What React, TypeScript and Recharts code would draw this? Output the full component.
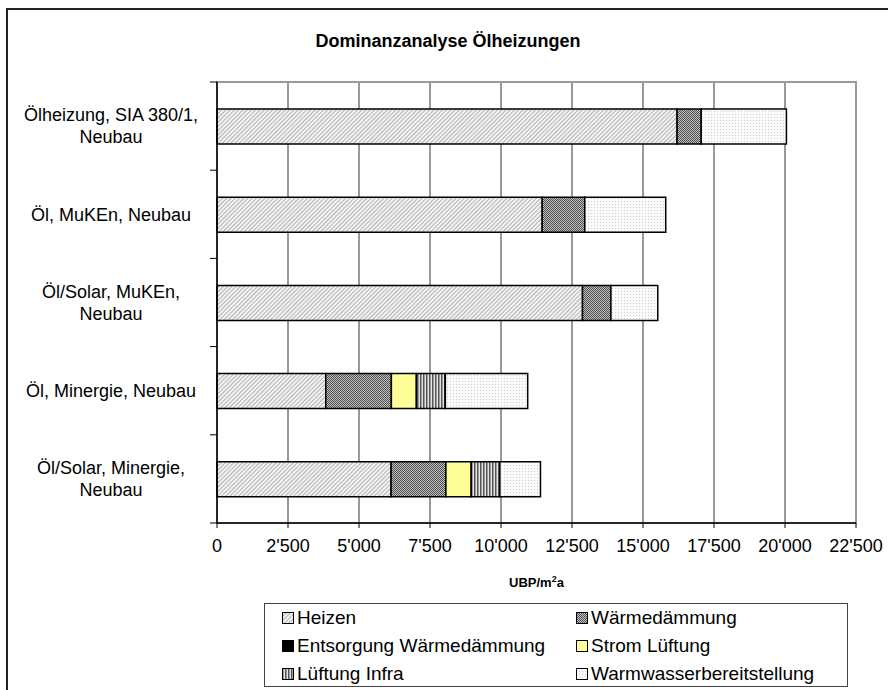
import React from "react";
import { BarChart, Bar, XAxis, YAxis, CartesianGrid, ReferenceArea } from "recharts";

const categories = [
  "Ölheizung, SIA 380/1,|Neubau",
  "Öl, MuKEn, Neubau",
  "Öl/Solar, MuKEn,|Neubau",
  "Öl, Minergie, Neubau",
  "Öl/Solar, Minergie,|Neubau",
];
const heizen = [16200, 11450, 12870, 3830, 6130];
const waermedaemmung = [850, 1500, 1000, 2310, 1930];
const entsorgung = [0, 0, 0, 0, 0];
const stromLueftung = [0, 0, 0, 880, 890];
const lueftungInfra = [0, 0, 0, 1020, 1010];
const warmwasser = [3000, 2850, 1650, 2900, 1430];
const xTicks = [0, 2500, 5000, 7500, 10000, 12500, 15000, 17500, 20000, 22500];

const series = [
  { key: "heizen", name: "Heizen", fill: "url(#pHeizen)" },
  { key: "waermedaemmung", name: "Wärmedämmung", fill: "url(#pWD)" },
  { key: "entsorgung", name: "Entsorgung Wärmedämmung", fill: "#000000" },
  { key: "stromLueftung", name: "Strom Lüftung", fill: "#FFFF99" },
  { key: "lueftungInfra", name: "Lüftung Infra", fill: "url(#pInfra)" },
  { key: "warmwasser", name: "Warmwasserbereitstellung", fill: "url(#pWW)" },
];

const data = categories.map((c, i) => ({
  cat: c,
  heizen: heizen[i],
  waermedaemmung: waermedaemmung[i],
  entsorgung: entsorgung[i],
  stromLueftung: stromLueftung[i],
  lueftungInfra: lueftungInfra[i],
  warmwasser: warmwasser[i],
}));

const fmt = (n: number) => String(n).replace(/\B(?=(\d{3})+(?!\d))/g, "'");
const FONT = "'Liberation Sans', Arial, sans-serif";
const HALF_BAND = 44.1;

const YTick = (props: any) => {
  const { y, payload, index } = props;
  const lines = String(payload.value).split("|");
  const lh = 22;
  const startY = y - ((lines.length - 1) * lh) / 2;
  return (
    <g>
      <line x1={210} x2={217} y1={y - HALF_BAND} y2={y - HALF_BAND} stroke="#000" />
      {index === categories.length - 1 && (
        <line x1={210} x2={217} y1={y + HALF_BAND} y2={y + HALF_BAND} stroke="#000" />
      )}
      <text textAnchor="middle" fontFamily={FONT} fontSize={18} fill="#000">
        {lines.map((l, i) => (
          <tspan key={i} x={111} y={startY + i * lh} dy="0.35em">
            {l}
          </tspan>
        ))}
      </text>
    </g>
  );
};

const XLabel = (props: any) => {
  const vb = props.viewBox || {};
  const cx = vb.x + vb.width / 2;
  return (
    <text x={cx} y={587} textAnchor="middle" fontFamily={FONT} fontSize={13} fontWeight="bold" fill="#000">
      UBP/m<tspan dy={-5} fontSize={9}>2</tspan>
      <tspan dy={5}>a</tspan>
    </text>
  );
};

export default function App() {
  return (
    <div style={{ position: "absolute", left: 0, top: 0, width: 888, height: 690, overflow: "hidden", background: "#fff" }}>
      <div
        style={{
          position: "absolute",
          left: 6,
          top: 8,
          width: 900,
          height: 700,
          borderLeft: "2px solid #222",
          borderTop: "2px solid #222",
        }}
      />
      <div
        style={{
          position: "absolute",
          left: 0,
          top: 31,
          width: 888,
          textAlign: "center",
          fontFamily: FONT,
          fontWeight: "bold",
          fontSize: 18,
          paddingLeft: 8,
          boxSizing: "border-box",
        }}
      >
        Dominanzanalyse Ölheizungen
      </div>
      <div style={{ position: "absolute", left: 0, top: 0 }}>
        <BarChart
          width={888}
          height={690}
          data={data}
          layout="vertical"
          margin={{ top: 82, right: 32, bottom: 137, left: 0 }}
          barSize={35}
        >
          <defs>
            <pattern id="pHeizen" width="3" height="3" patternUnits="userSpaceOnUse" patternTransform="rotate(45)">
              <rect width="3" height="3" fill="#f2f2f2" />
              <rect width="1" height="3" fill="#b4b4b4" />
            </pattern>
            <pattern id="pWD" width="2" height="2" patternUnits="userSpaceOnUse">
              <rect width="2" height="2" fill="#c0c0c0" />
              <rect width="1" height="1" fill="#505050" />
              <rect x="1" y="1" width="1" height="1" fill="#505050" />
            </pattern>
            <pattern id="pInfra" width="3" height="3" patternUnits="userSpaceOnUse">
              <rect width="3" height="3" fill="#e4e4e4" />
              <rect width="1.5" height="3" fill="#555" />
            </pattern>
            <pattern id="pWW" width="3" height="3" patternUnits="userSpaceOnUse">
              <rect width="3" height="3" fill="#fbfbfb" />
              <rect width="1" height="1" fill="#cfcfcf" />
            </pattern>
          </defs>
          <CartesianGrid horizontal={false} vertical={true} stroke="#333" strokeWidth={1} />
          <XAxis
            type="number"
            domain={[0, 22500]}
            ticks={xTicks}
            interval={0}
            tickFormatter={fmt}
            tick={{ fontFamily: FONT, fontSize: 18, fill: "#000" }}
            tickSize={5}
            tickMargin={11}
            axisLine={{ stroke: "#000", strokeWidth: 1.5 }}
            tickLine={{ stroke: "#000" }}
            height={30}
            label={<XLabel />}
          />
          <YAxis
            type="category"
            dataKey="cat"
            width={217}
            tick={<YTick />}
            tickLine={false}
            axisLine={{ stroke: "#000", strokeWidth: 1.5 }}
            interval={0}
          />
          <ReferenceArea x1={0} x2={22500} fill="none" stroke="#999" strokeWidth={2} ifOverflow="visible" />
          {series.map((s) => (
            <Bar
              key={s.key}
              dataKey={s.key}
              name={s.name}
              stackId="a"
              fill={s.fill}
              stroke="#000"
              strokeWidth={1.5}
              isAnimationActive={false}
            />
          ))}
        </BarChart>
      </div>
      <div
        style={{
          position: "absolute",
          left: 264,
          top: 603,
          width: 584,
          height: 84,
          border: "1px solid #444",
          boxSizing: "border-box",
          fontFamily: FONT,
          fontSize: 19,
        }}
      >
        {series.map((s, i) => {
          const col = i % 2;
          const row = Math.floor(i / 2);
          return (
            <div
              key={s.key}
              style={{
                position: "absolute",
                left: col === 0 ? 17 : 311,
                top: 3 + row * 28,
                height: 22,
                display: "flex",
                alignItems: "center",
                whiteSpace: "nowrap",
              }}
            >
              <svg width={12} height={12} style={{ marginRight: 3 }}>
                <rect x={0.5} y={0.5} width={11} height={11} fill={s.fill} stroke="#000" strokeWidth={1} />
              </svg>
              <span>{s.name}</span>
            </div>
          );
        })}
      </div>
    </div>
  );
}
